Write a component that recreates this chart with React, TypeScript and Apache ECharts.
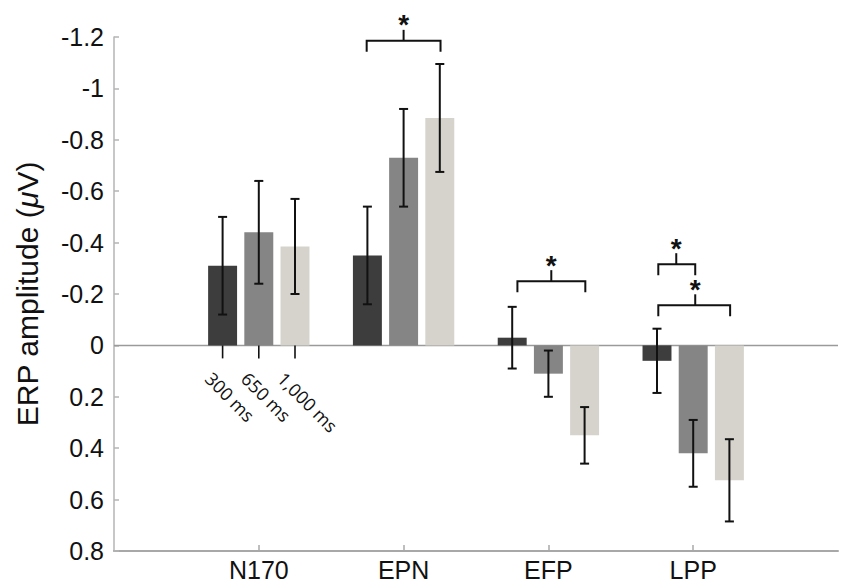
import React, { useEffect, useRef } from "react";
import * as echarts from "echarts";

// Components (categories) on the x axis
const categories = ["N170", "EPN", "EFP", "LPP"];
// Conditions (one bar per condition in each group)
const conditions = ["300 ms", "650 ms", "1,000 ms"];
const conditionColors = ["#3d3d3d", "#858585", "#d6d3cc"];

// Mean ERP amplitudes (µV) per condition, per category
const mean300 = [-0.31, -0.35, -0.03, 0.06];
const mean650 = [-0.44, -0.73, 0.11, 0.42];
const mean1000 = [-0.385, -0.885, 0.35, 0.525];
// Error bar half-lengths
const err300 = [0.19, 0.19, 0.12, 0.125];
const err650 = [0.2, 0.19, 0.09, 0.13];
const err1000 = [0.185, 0.21, 0.11, 0.16];

// Y-axis ticks
const yMin = -1.2;
const yMax = 0.8;
const yStep = 0.2;

// Significance brackets: [left x, right x, stem x, bracket level]
const bracketsLeft = [1.745, 2.786, 3.759, 3.759];
const bracketsRight = [2.255, 3.255, 4.014, 4.255];
const bracketsStem = [2.0, 3.02, 3.883, 4.014];
const bracketsLevel = [-1.185, -0.25, -0.316, -0.156];

const means = [mean300, mean650, mean1000];
const errs = [err300, err650, err1000];
const barOffset = 0.25;
const barWidth = 0.2;

export default function App() {
  const ref = useRef<HTMLDivElement>(null);

  useEffect(() => {
    if (!ref.current) return;
    const chart = echarts.init(ref.current, undefined, { renderer: "svg" });

    const barSeries = conditions.map((cond, k) => ({
      type: "custom",
      name: cond,
      z: 3,
      clip: false,
      encode: { x: 0, y: 1 },
      data: categories.map((_, i) => [i + 1, means[k][i], errs[k][i]]),
      renderItem: (params: any, api: any) => {
        const xc = api.value(0) + (k - 1) * barOffset;
        const m = api.value(1);
        const e = api.value(2);
        const p0 = api.coord([xc - barWidth / 2, 0]);
        const p1 = api.coord([xc + barWidth / 2, m]);
        const top = api.coord([xc, m - e]);
        const bot = api.coord([xc, m + e]);
        const cap = 4.5;
        const lineStyle = { stroke: "#111", lineWidth: 2 };
        return {
          type: "group",
          children: [
            {
              type: "rect",
              shape: {
                x: Math.min(p0[0], p1[0]),
                y: Math.min(p0[1], p1[1]),
                width: Math.abs(p1[0] - p0[0]),
                height: Math.abs(p1[1] - p0[1]),
              },
              style: { fill: conditionColors[k] },
            },
            {
              type: "line",
              shape: { x1: top[0], y1: top[1], x2: bot[0], y2: bot[1] },
              style: lineStyle,
            },
            {
              type: "line",
              shape: { x1: top[0] - cap, y1: top[1], x2: top[0] + cap, y2: top[1] },
              style: lineStyle,
            },
            {
              type: "line",
              shape: { x1: bot[0] - cap, y1: bot[1], x2: bot[0] + cap, y2: bot[1] },
              style: lineStyle,
            },
          ],
        };
      },
    }));

    const bracketSeries = {
      type: "custom",
      z: 4,
      clip: false,
      encode: { x: [0, 1, 2], y: 3 },
      data: bracketsLeft.map((l, i) => [l, bracketsRight[i], bracketsStem[i], bracketsLevel[i]]),
      renderItem: (params: any, api: any) => {
        const y = api.value(3);
        const a = api.coord([api.value(0), y]);
        const b = api.coord([api.value(1), y]);
        const s = api.coord([api.value(2), y]);
        const leg = 11;
        const st = { stroke: "#111", lineWidth: 2, fill: "none" };
        return {
          type: "group",
          children: [
            {
              type: "polyline",
              shape: {
                points: [
                  [a[0], a[1] + leg],
                  [a[0], a[1]],
                  [b[0], b[1]],
                  [b[0], b[1] + leg],
                ],
              },
              style: st,
            },
            {
              type: "line",
              shape: { x1: s[0], y1: s[1], x2: s[0], y2: s[1] - 11 },
              style: st,
            },
            {
              type: "text",
              x: s[0],
              y: s[1] - 16,
              style: {
                text: "*",
                fontSize: 28,
                fontWeight: "bold",
                fontFamily: "Liberation Sans",
                fill: "#111",
                align: "center",
                verticalAlign: "middle",
              },
            },
          ],
        };
      },
    };

    const condLabelSeries = {
      type: "custom",
      z: 4,
      clip: false,
      encode: { x: 0, y: 1 },
      data: conditions.map((_, k) => [1 + (k - 1) * barOffset, 0, k]),
      renderItem: (params: any, api: any) => {
        const p = api.coord([api.value(0), api.value(1)]);
        const k = api.value(2);
        return {
          type: "group",
          children: [
            {
              type: "line",
              shape: { x1: p[0], y1: p[1], x2: p[0], y2: p[1] + 13 },
              style: { stroke: "#111", lineWidth: 1.6 },
            },
            {
              type: "text",
              x: p[0] - 14,
              y: p[1] + 30,
              rotation: -Math.PI / 4,
              style: {
                text: conditions[k],
                fontSize: 18,
                fontFamily: "Open Sans",
                fill: "#111",
                align: "left",
                verticalAlign: "middle",
              },
            },
          ],
        };
      },
    };

    const zeroLine = {
      type: "line",
      z: 1,
      silent: true,
      showSymbol: false,
      symbol: "none",
      lineStyle: { color: "#9a9a9a", width: 1.5 },
      data: [
        [0, 0],
        [5, 0],
      ],
    };

    chart.setOption({
      animation: false,
      backgroundColor: "#ffffff",
      grid: { left: 114, right: 12, top: 37, bottom: 37 },
      xAxis: {
        type: "value",
        min: 0,
        max: 5,
        interval: 1,
        splitLine: { show: false },
        axisLine: { show: true, onZero: false, lineStyle: { color: "#a8a8a8", width: 2 } },
        axisTick: {
          show: true,
          inside: true,
          length: 6,
          customValues: [1, 2, 3, 4],
          lineStyle: { color: "#a8a8a8", width: 1.5 },
        },
        axisLabel: {
          customValues: [1, 2, 3, 4],
          formatter: (v: number) => categories[Math.round(v) - 1] || "",
          fontSize: 25,
          fontFamily: "Liberation Sans",
          color: "#111",
          margin: 6,
        },
      },
      yAxis: {
        type: "value",
        inverse: true,
        min: yMin,
        max: yMax,
        interval: yStep,
        splitLine: { show: false },
        axisLine: { show: true, onZero: false, lineStyle: { color: "#b5b5b5", width: 1.5 } },
        axisTick: { show: true, inside: true, length: 5, lineStyle: { color: "#b5b5b5", width: 1.5 } },
        axisLabel: {
          formatter: (v: number) => String(parseFloat(v.toFixed(1))),
          fontSize: 25,
          fontFamily: "Liberation Sans",
          color: "#111",
          margin: 10,
        },
        name: "ERP amplitude ({i|μ}V)",
        nameLocation: "middle",
        nameGap: 72,
        nameRotate: 90,
        nameTextStyle: {
          fontSize: 30,
          fontFamily: "Liberation Sans",
          color: "#111",
          rich: {
            i: { fontSize: 30, fontFamily: "Liberation Sans", fontStyle: "italic", color: "#111" },
          },
        },
      },
      series: [zeroLine, ...barSeries, bracketSeries, condLabelSeries],
    });

    return () => chart.dispose();
  }, []);

  return (
    <div
      ref={ref}
      style={{ position: "fixed", left: 0, top: 0, width: 850, height: 588 }}
    />
  );
}
